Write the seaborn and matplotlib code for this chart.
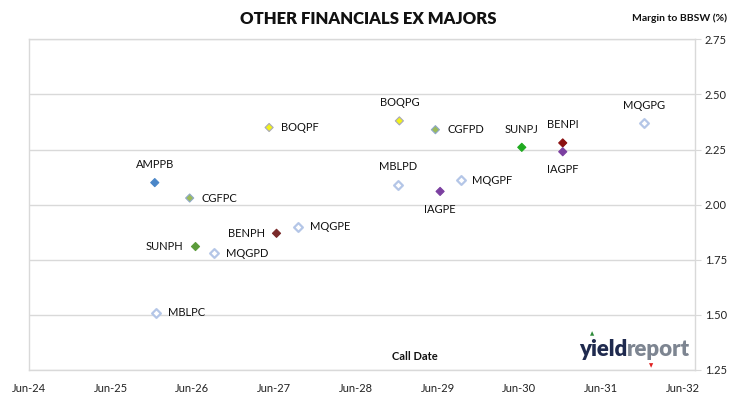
import pandas as pd
import matplotlib.pyplot as plt
import matplotlib.dates as mdates
import seaborn as sns

# Data: security, call date, margin to BBSW (%)
names = ['AMPPB', 'MBLPC', 'CGFPC', 'SUNPH', 'MQGPD', 'BOQPF', 'BENPH', 'MQGPE',
         'MBLPD', 'BOQPG', 'CGFPD', 'IAGPE', 'MQGPF', 'SUNPJ', 'BENPI', 'IAGPF', 'MQGPG']
call_dates = ['2025-12-15', '2025-12-20', '2026-05-20', '2026-06-15', '2026-09-05',
              '2027-05-10', '2027-06-12', '2027-09-15', '2028-12-07', '2028-12-12',
              '2029-05-22', '2029-06-12', '2029-09-12', '2030-06-12', '2030-12-12',
              '2030-12-12', '2031-12-12']
margins = [2.10, 1.51, 2.03, 1.81, 1.78, 2.35, 1.87, 1.90,
           2.09, 2.38, 2.34, 2.06, 2.11, 2.26, 2.28, 2.24, 2.37]

df = pd.DataFrame({'name': names, 'call_date': pd.to_datetime(call_dates), 'margin': margins})

# Styling per security
fill = {'AMPPB': '#4a86c8', 'CGFPC': '#9bbb59', 'CGFPD': '#9bbb59', 'SUNPH': '#5b9b3a',
        'SUNPJ': '#1faa1f', 'BENPH': '#7a2a2a', 'BENPI': '#8b1010', 'BOQPF': '#f2f21a',
        'BOQPG': '#f2f21a', 'IAGPE': '#7b3fa0', 'IAGPF': '#7b3fa0'}
edge = {'CGFPC': '#8fa8c8', 'CGFPD': '#8fa8c8', 'BOQPF': '#a8a8b8', 'BOQPG': '#a8a8b8'}
hollow = ['MBLPC', 'MBLPD', 'MQGPD', 'MQGPE', 'MQGPF', 'MQGPG']
label_pos = {'AMPPB': 'above', 'MBLPC': 'right', 'CGFPC': 'right', 'SUNPH': 'left',
             'MQGPD': 'right', 'BOQPF': 'right', 'BENPH': 'left', 'MQGPE': 'right',
             'MBLPD': 'above', 'BOQPG': 'above', 'CGFPD': 'right', 'IAGPE': 'below',
             'MQGPF': 'right', 'SUNPJ': 'above', 'BENPI': 'above', 'IAGPF': 'below',
             'MQGPG': 'above'}

sns.set_style('white')
plt.rcParams['font.family'] = ['Lato', 'DejaVu Sans']

fig = plt.figure(figsize=(7.30, 3.99), dpi=100)
ax = fig.add_axes([29 / 730, 1 - 370 / 399, (695 - 29) / 730, (370 - 39.3) / 399])

filled_df = df[~df['name'].isin(hollow)]
hollow_df = df[df['name'].isin(hollow)]

sns.scatterplot(data=filled_df, x='call_date', y='margin', hue='name', palette=fill,
                marker='D', s=17, linewidth=0.8,
                edgecolor=[edge.get(n, fill[n]) for n in filled_df['name']],
                legend=False, ax=ax, zorder=3)
sns.scatterplot(data=hollow_df, x='call_date', y='margin', marker='D', s=20,
                color='white', edgecolor='#b4c6e7', linewidth=1.6,
                legend=False, ax=ax, zorder=3)

offsets = {'right': ((8.5, 0), 'left', 'center'), 'left': ((-8.5, 0), 'right', 'center'),
           'above': ((0, 13), 'center', 'center'), 'below': ((0, -13), 'center', 'center')}
for _, row in df.iterrows():
    off, ha, va = offsets[label_pos[row['name']]]
    ax.annotate(row['name'], (row['call_date'], row['margin']), xytext=off,
                textcoords='offset points', ha=ha, va=va, fontsize=8, color='#111111')

# Axes
ax.set_xlim(pd.Timestamp('2024-06-01'), pd.Timestamp('2032-07-25'))
ax.set_ylim(1.25, 2.75)
ax.xaxis.set_major_locator(mdates.MonthLocator(bymonth=6, bymonthday=1))
ax.xaxis.set_major_formatter(mdates.DateFormatter('%b-%y'))
ax.set_yticks([1.25, 1.50, 1.75, 2.00, 2.25, 2.50, 2.75])
ax.yaxis.set_major_formatter(plt.FormatStrFormatter('%.2f'))
ax.yaxis.tick_right()
ax.tick_params(axis='y', length=4, color='#d9d9d9', labelsize=8, pad=3, labelcolor='#222222')
ax.tick_params(axis='x', length=0, labelsize=8, pad=9, labelcolor='#222222')
ax.grid(axis='y', color='#d9d9d9', linewidth=1)
ax.grid(axis='x', visible=False)
for sp in ax.spines.values():
    sp.set_color('#d9d9d9')
    sp.set_linewidth(1)
ax.set_xlabel('')
ax.set_ylabel('')

ax.text(0.58, 0.025, 'Call Date', transform=ax.transAxes, ha='center', va='bottom',
        fontsize=8, fontweight='bold', color='#111111')

fig.text(368 / 730, 1 - 19 / 399, 'OTHER FINANCIALS EX MAJORS', ha='center', va='center',
         fontsize=12, fontweight='heavy', color='#111111')
fig.text(727 / 730, 1 - 18 / 399, 'Margin to BBSW (%)', ha='right', va='center',
         fontsize=7.5, fontweight='bold', color='#111111')

# yieldreport logo
t1 = fig.text(579 / 730, 1 - 356 / 399, 'yield', ha='left', va='baseline',
              fontsize=16, fontweight='heavy', color='#1f2a4e')
fig.canvas.draw()
bb = t1.get_window_extent()
fig.text(bb.x1 / fig.bbox.width, 1 - 356 / 399, 'report', ha='left', va='baseline',
         fontsize=16, fontweight='heavy', color='#7d8591')
fig.text(592 / 730, 1 - 334 / 399, '\u25b2', ha='center', va='center', fontsize=4,
         color='#2e8b3a', family='DejaVu Sans')
fig.text(651 / 730, 1 - 366 / 399, '\u25bc', ha='center', va='center', fontsize=4,
         color='#e02020', family='DejaVu Sans')

fig.savefig('out.png', dpi=100)
